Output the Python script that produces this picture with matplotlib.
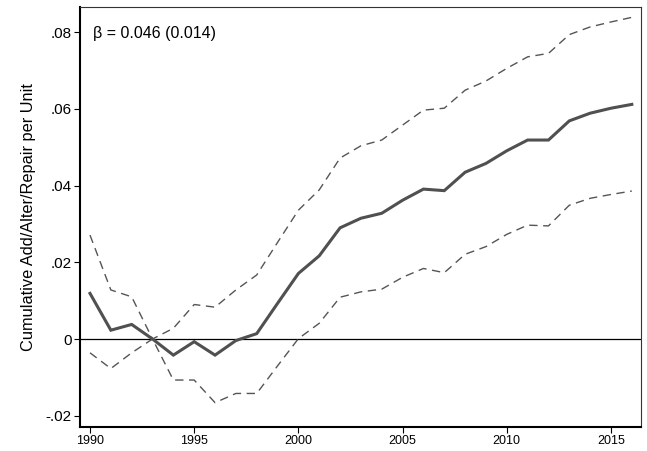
import matplotlib
matplotlib.use("Agg")
import matplotlib.pyplot as plt

years = list(range(1990, 2017))
estimate = [0.0119, 0.0023, 0.0038, 0.0000, -0.0042, -0.0007, -0.0042, -0.0004, 0.0014,
            0.0093, 0.0171, 0.0217, 0.0290, 0.0315, 0.0328, 0.0362, 0.0391, 0.0387,
            0.0435, 0.0458, 0.0491, 0.0519, 0.0519, 0.0569, 0.0589, 0.0602, 0.0612]
upper = [0.0271, 0.0128, 0.0110, 0.0000, 0.0028, 0.0090, 0.0083, 0.0128, 0.0167,
         0.0252, 0.0336, 0.0389, 0.0472, 0.0504, 0.0519, 0.0558, 0.0597, 0.0602,
         0.0649, 0.0673, 0.0706, 0.0736, 0.0745, 0.0794, 0.0814, 0.0827, 0.0839]
lower = [-0.0036, -0.0077, -0.0036, 0.0000, -0.0107, -0.0107, -0.0166, -0.0142, -0.0142,
         -0.0070, 0.0001, 0.0041, 0.0109, 0.0123, 0.0130, 0.0161, 0.0184, 0.0173,
         0.0221, 0.0241, 0.0273, 0.0297, 0.0295, 0.0349, 0.0367, 0.0377, 0.0386]
xticks = [1990, 1995, 2000, 2005, 2010, 2015]
yticks = [-0.02, 0, 0.02, 0.04, 0.06, 0.08]
ytick_labels = ["-.02", "0", ".02", ".04", ".06", ".08"]
annotation = "β = 0.046 (0.014)"
ylabel = "Cumulative Add/Alter/Repair per Unit"

plt.rcParams['font.family'] = ['Liberation Sans', 'DejaVu Sans']

fig = plt.figure(figsize=(6.47, 4.51), dpi=100)
ax = fig.add_axes([80/647, 24/451, 561/647, 420/451])

ax.axhline(0, color='black', lw=0.9, zorder=1)
ax.plot(years, upper, color='#555555', lw=1.0, ls=(0, (6, 4)), zorder=2)
ax.plot(years, lower, color='#555555', lw=1.0, ls=(0, (6, 4)), zorder=2)
ax.plot(years, estimate, color='#505050', lw=2.2, zorder=3, solid_joinstyle='miter')

ax.set_xlim(1989.52, 2016.44)
ax.set_ylim(-0.02295, 0.0866)
ax.set_xticks(xticks)
ax.set_xticklabels([str(x) for x in xticks], fontsize=9)
ax.set_yticks(yticks)
ax.set_yticklabels(ytick_labels, fontsize=11)
ax.tick_params(axis='both', direction='out', length=4, width=0.8, color='black')
ax.tick_params(axis='y', pad=2)
ax.tick_params(axis='x', pad=2)

ax.set_ylabel(ylabel, fontsize=11.8, labelpad=7)

for side in ['left', 'bottom']:
    ax.spines[side].set_linewidth(1.5)
for side in ['top', 'right']:
    ax.spines[side].set_linewidth(0.8)
    ax.spines[side].set_color('#333333')

ax.text(0.023, 0.936, annotation, transform=ax.transAxes, fontsize=11.5,
        ha='left', va='center')

fig.savefig("out.png", dpi=100)
